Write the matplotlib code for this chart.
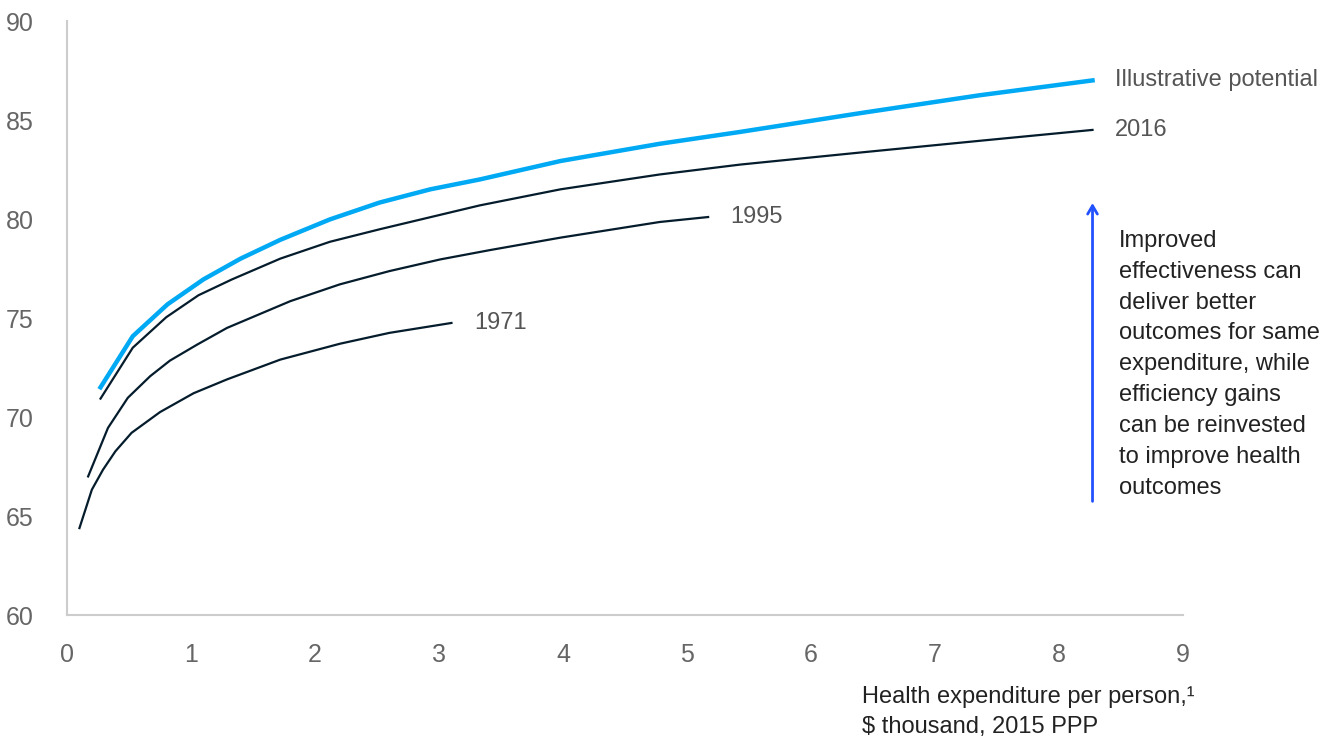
import matplotlib.pyplot as plt

# (x = $ thousand, y = life expectancy)
x_1971 = [0.10, 0.20, 0.29, 0.39, 0.52, 0.75, 1.02, 1.29, 1.72, 2.20, 2.60, 3.10]
y_1971 = [64.39, 66.33, 67.34, 68.27, 69.2, 70.25, 71.2, 71.9, 72.9, 73.7, 74.25, 74.75]

x_1995 = [0.17, 0.33, 0.49, 0.67, 0.83, 1.05, 1.29, 1.80, 2.20, 2.60, 3.01, 3.41, 3.98, 4.78, 5.17]
y_1995 = [67.0, 69.45, 70.97, 72.06, 72.85, 73.66, 74.5, 75.85, 76.7, 77.37, 77.96, 78.43, 79.06, 79.85, 80.1]

x_2016 = [0.27, 0.53, 0.80, 1.06, 1.33, 1.72, 2.12, 2.52, 3.33, 3.98, 4.78, 5.43, 6.40, 7.36, 8.27]
y_2016 = [70.93, 73.5, 75.04, 76.15, 76.95, 78.0, 78.85, 79.48, 80.69, 81.5, 82.25, 82.75, 83.36, 83.95, 84.5]

x_pot = [0.27, 0.53, 0.81, 1.10, 1.40, 1.72, 2.12, 2.52, 2.93, 3.33, 3.98, 4.78, 5.43, 6.40, 7.36, 8.27]
y_pot = [71.5, 74.08, 75.69, 76.95, 78.0, 78.95, 79.98, 80.83, 81.5, 82.0, 82.93, 83.8, 84.4, 85.35, 86.25, 87.0]

navy = '#051C2C'
cyan = '#00A9F4'
plt.rcParams['font.family'] = ['Liberation Sans', 'DejaVu Sans']

fig = plt.figure(figsize=(13.33, 7.37), dpi=100)
ax = fig.add_axes([0.0503, 0.1655, 0.8372, 0.806])

ax.plot(x_1971, y_1971, color=navy, lw=1.6)
ax.plot(x_1995, y_1995, color=navy, lw=1.6)
ax.plot(x_2016, y_2016, color=navy, lw=1.6)
ax.plot(x_pot, y_pot, color=cyan, lw=3.2)

ax.set_xlim(0, 9)
ax.set_ylim(60, 90)
ax.set_xticks(range(0, 10))
ax.set_yticks(range(60, 91, 5))
for s in ['top', 'right']:
    ax.spines[s].set_visible(False)
for s in ['left', 'bottom']:
    ax.spines[s].set_color('#cccccc')
    ax.spines[s].set_linewidth(1.5)
ax.tick_params(length=0, labelsize=18, labelcolor='#666666')
ax.tick_params(axis='x', pad=20)
ax.tick_params(axis='y', pad=24)

lbl = dict(fontsize=17, color='#555555', va='center', ha='left')
ax.text(x_1971[-1] + 0.18, y_1971[-1], '1971', **lbl)
ax.text(x_1995[-1] + 0.18, y_1995[-1], '1995', **lbl)
ax.text(x_2016[-1] + 0.18, y_2016[-1], '2016', **lbl)
ax.text(x_pot[-1] + 0.18, y_pot[-1], 'Illustrative potential', **lbl)

# arrow
ax.annotate('', xy=(8.27, 80.95), xytext=(8.27, 65.6),
            arrowprops=dict(arrowstyle='->,head_length=0.6,head_width=0.35',
                            color='#2251FF', lw=2), annotation_clip=False)
ax.text(8.48, 79.45, 'Improved\neffectiveness can\ndeliver better\noutcomes for same\n'
        'expenditure, while\nefficiency gains\ncan be reinvested\nto improve health\noutcomes',
        fontsize=17, color='#222222', va='top', ha='left', linespacing=1.52,
        clip_on=False)

fig.text(862 / 1333, 1 - 686 / 737, 'Health expenditure per person,\u00b9\n$ thousand, 2015 PPP',
         fontsize=17, color='#222222', va='top', ha='left', linespacing=1.5)

fig.savefig('out.png', dpi=100)
